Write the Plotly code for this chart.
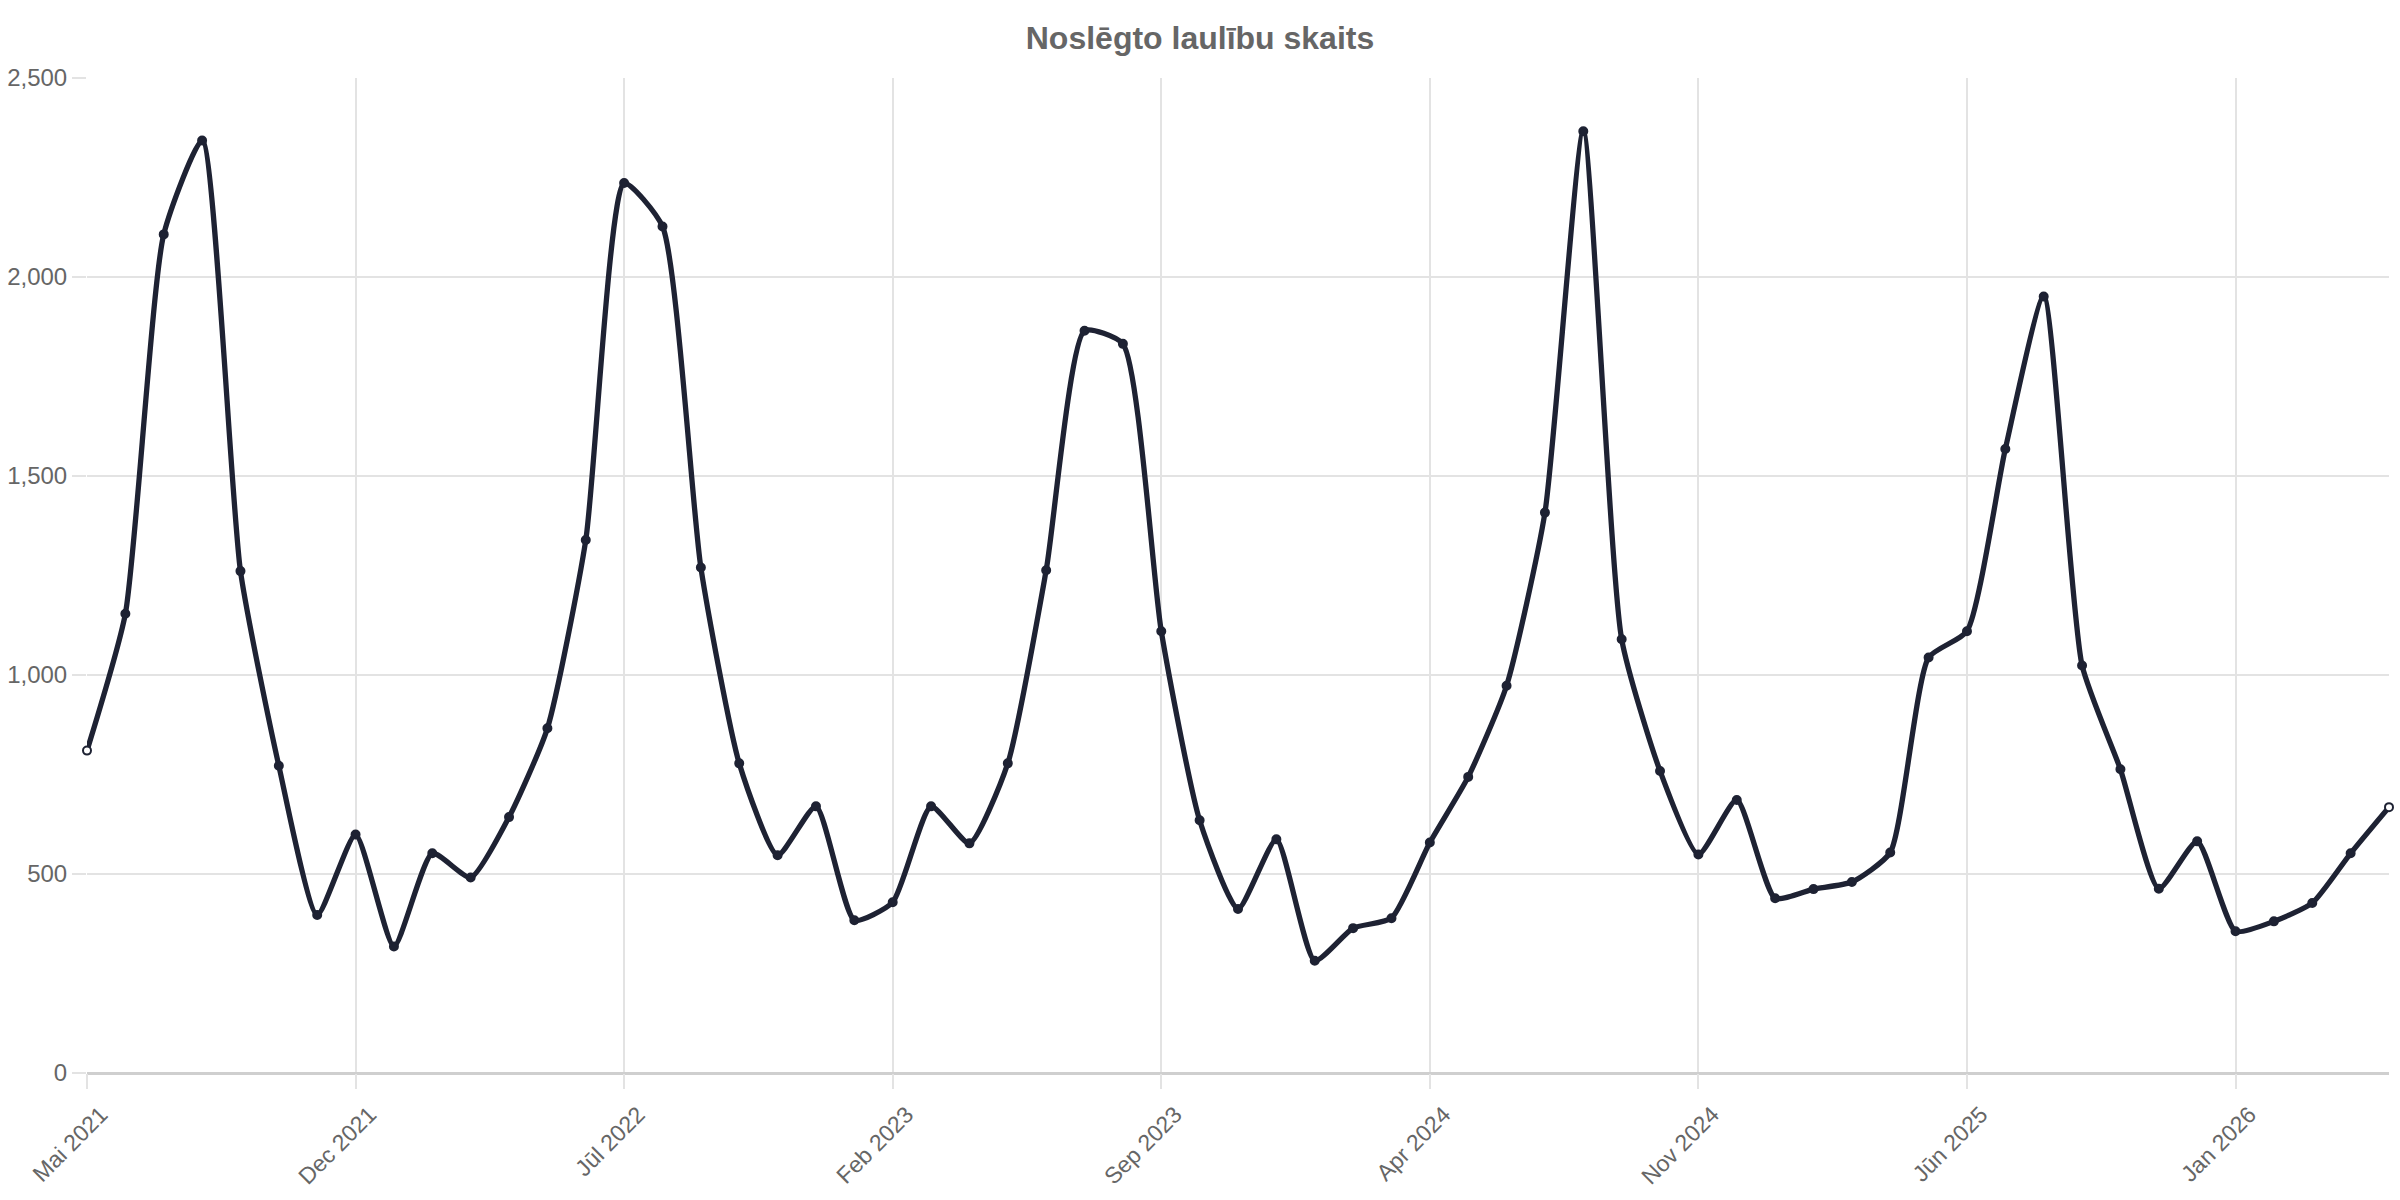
import plotly.graph_objects as go

months = ["Mai 2021", "Jūn 2021", "Jūl 2021", "Aug 2021", "Sep 2021", "Okt 2021", "Nov 2021", "Dec 2021",
          "Jan 2022", "Feb 2022", "Mar 2022", "Apr 2022", "Mai 2022", "Jūn 2022", "Jūl 2022", "Aug 2022",
          "Sep 2022", "Okt 2022", "Nov 2022", "Dec 2022", "Jan 2023", "Feb 2023", "Mar 2023", "Apr 2023",
          "Mai 2023", "Jūn 2023", "Jūl 2023", "Aug 2023", "Sep 2023", "Okt 2023", "Nov 2023", "Dec 2023",
          "Jan 2024", "Feb 2024", "Mar 2024", "Apr 2024", "Mai 2024", "Jūn 2024", "Jūl 2024", "Aug 2024",
          "Sep 2024", "Okt 2024", "Nov 2024", "Dec 2024", "Jan 2025", "Feb 2025", "Mar 2025", "Apr 2025",
          "Mai 2025", "Jūn 2025", "Jūl 2025", "Aug 2025", "Sep 2025", "Okt 2025", "Nov 2025", "Dec 2025",
          "Jan 2026", "Feb 2026", "Mar 2026", "Apr 2026", "Mai 2026"]

marriages = [810, 1154, 2107, 2343, 1261, 772, 397, 599,
             318, 552, 491, 643, 866, 1339, 2236, 2127,
             1270, 778, 547, 670, 384, 429, 670, 577,
             778, 1263, 1865, 1832, 1110, 635, 412, 587,
             282, 364, 389, 579, 744, 973, 1408, 2366,
             1090, 759, 549, 686, 439, 462, 480, 554,
             1044, 1110, 1568, 1951, 1024, 763, 463, 582,
             356, 381, 427, 552, 668]

tick_labels = ["Mai 2021", "Dec 2021", "Jūl 2022", "Feb 2023", "Sep 2023",
               "Apr 2024", "Nov 2024", "Jūn 2025", "Jan 2026"]

line_color = "#1e2233"
n = len(marriages)
fills = ["white" if i in (0, n - 1) else line_color for i in range(n)]

fig = go.Figure()
fig.add_trace(go.Scatter(
    x=months, y=marriages, mode="lines+markers",
    line=dict(color=line_color, width=5.3, shape="spline", smoothing=0.55),
    marker=dict(size=8, color=fills, line=dict(color=line_color, width=2)),
    cliponaxis=False,
    showlegend=False,
))

font_family = "Liberation Sans, Arial, sans-serif"
fig.update_layout(
    width=2400, height=1200,
    margin=dict(l=87, r=11, t=78, b=127),
    paper_bgcolor="white", plot_bgcolor="white",
    title=dict(text="<b>Noslēgto laulību skaits</b>", x=0.5, xanchor="center",
               y=1 - 38 / 1200, yanchor="middle",
               font=dict(family=font_family, size=32, color="#666666")),
    font=dict(family=font_family, color="#666666"),
)
fig.update_xaxes(
    type="category", range=[0, n - 1], automargin=False,
    tickmode="array", tickvals=tick_labels, ticktext=tick_labels,
    tickangle=-45, tickfont=dict(size=23, color="#666666"),
    ticklabelshift=14, ticklabelstandoff=3,
    showgrid=True, gridcolor="#e3e3e3", gridwidth=1.5,
    ticks="outside", ticklen=15, tickcolor="#e3e3e3", tickwidth=1.5,
    showline=False, zeroline=False,
)
fig.update_yaxes(
    range=[0, 2500], dtick=500, tickformat=",", automargin=False,
    tickfont=dict(size=24, color="#666666"),
    showgrid=True, gridcolor="#e3e3e3", gridwidth=1.5,
    ticks="outside", ticklen=14, tickcolor="#e3e3e3", tickwidth=1.5,
    zeroline=True, zerolinecolor="#cfcfcf", zerolinewidth=2.5,
    showline=False,
)

fig.write_html("out.html")
